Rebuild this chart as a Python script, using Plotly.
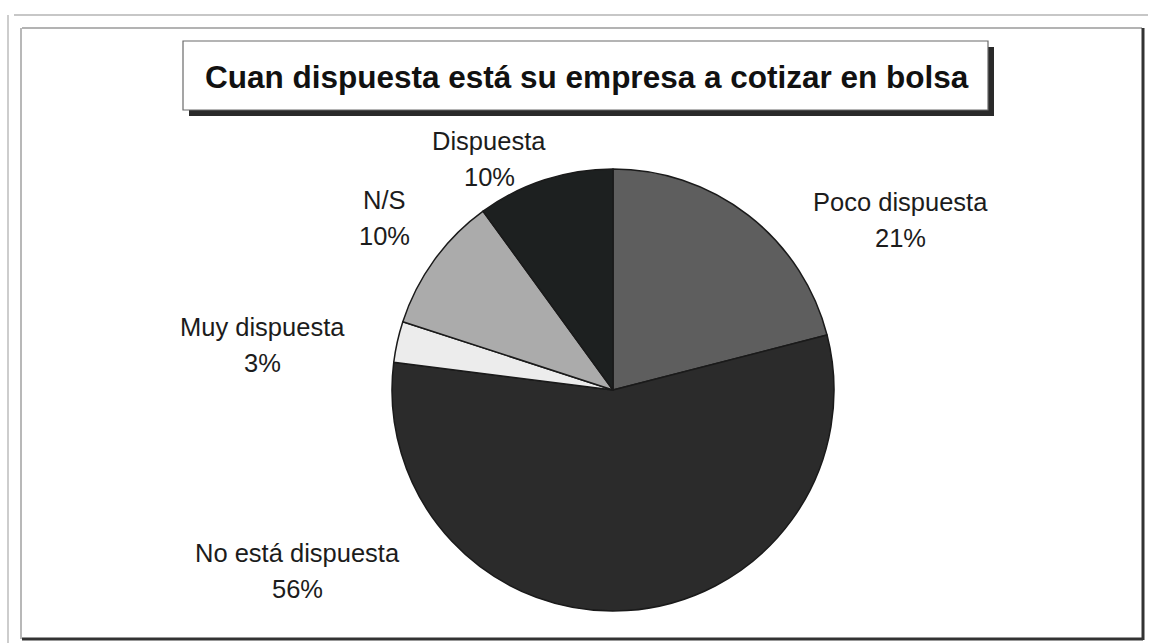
import plotly.graph_objects as go

# Survey answers, clockwise from 12 o'clock
categories = ["Poco dispuesta", "No está dispuesta", "Muy dispuesta", "N/S", "Dispuesta"]
shares = [21, 56, 3, 10, 10]
slice_colors = ["#5e5e5e", "#2b2b2b", "#ececec", "#ababab", "#1d2020"]
title_text = "Cuan dispuesta está su empresa a cotizar en bolsa"

W, H = 1150, 643

# Label anchor points in pixels (name line, percentage line beneath)
label_px = [(900, 202), (297, 553), (262, 327), (384, 200), (489, 141)]
line_gap = 36


def px(x):
    return x / W


def py(y):
    return 1 - y / H


# Pie placement in pixels
cx, cy, r = 613, 390, 221

fig = go.Figure(
    go.Pie(
        labels=categories,
        values=shares,
        sort=False,
        direction="clockwise",
        rotation=0,
        textinfo="none",
        hoverinfo="label+percent",
        marker=dict(colors=slice_colors, line=dict(color="#1a1a1a", width=1.5)),
        domain=dict(x=[px(cx - r), px(cx + r)], y=[py(cy + r), py(cy - r)]),
        showlegend=False,
    )
)

annotations = []
for name, val, (lx, ly) in zip(categories, shares, label_px):
    for text, yy in ((name, ly), (f"{val}%", ly + line_gap)):
        annotations.append(
            dict(
                x=px(lx), y=py(yy), xref="paper", yref="paper",
                text=text, showarrow=False, xanchor="center", yanchor="middle",
                font=dict(family="Liberation Sans, Arial, sans-serif", size=25.5, color="#1c1c1c"),
            )
        )

annotations.append(
    dict(
        x=px(587), y=py(77), xref="paper", yref="paper",
        text=f"<b>{title_text}</b>", showarrow=False, xanchor="center", yanchor="middle",
        font=dict(family="Liberation Sans, Arial, sans-serif", size=31.5, color="#111111"),
    )
)


def line(x0, y0, x1, y1, color, width):
    return dict(type="line", xref="paper", yref="paper",
                x0=px(x0), y0=py(y0), x1=px(x1), y1=py(y1),
                line=dict(color=color, width=width))


def rect(x0, y0, x1, y1, fill, color="rgba(0,0,0,0)", width=0):
    return dict(type="rect", xref="paper", yref="paper",
                x0=px(x0), y0=py(y0), x1=px(x1), y1=py(y1),
                fillcolor=fill, line=dict(color=color, width=width), layer="below")


shapes = [
    # outer frame
    line(14, 15, 1148, 15, "#b5b5b5", 1.5),
    line(8, 15, 8, 643, "#bdbdbd", 1.5),
    # inner frame with heavier lower/right edges
    line(22, 28, 1142, 28, "#9a9a9a", 1.5),
    line(21, 28, 21, 639, "#a0a0a0", 1.5),
    line(1143, 28, 1143, 640, "#333333", 3),
    line(22, 639, 1143, 639, "#333333", 3),
    # title box: drop shadow then box
    rect(189, 47, 994, 116, "#2a2a2a"),
    rect(183, 41, 988, 110, "#ffffff", "#6a6a6a", 1.2),
]

fig.update_layout(
    width=W, height=H,
    margin=dict(l=0, r=0, t=0, b=0),
    paper_bgcolor="#ffffff",
    plot_bgcolor="#ffffff",
    annotations=annotations,
    shapes=shapes,
)

fig.write_html("out.html")
